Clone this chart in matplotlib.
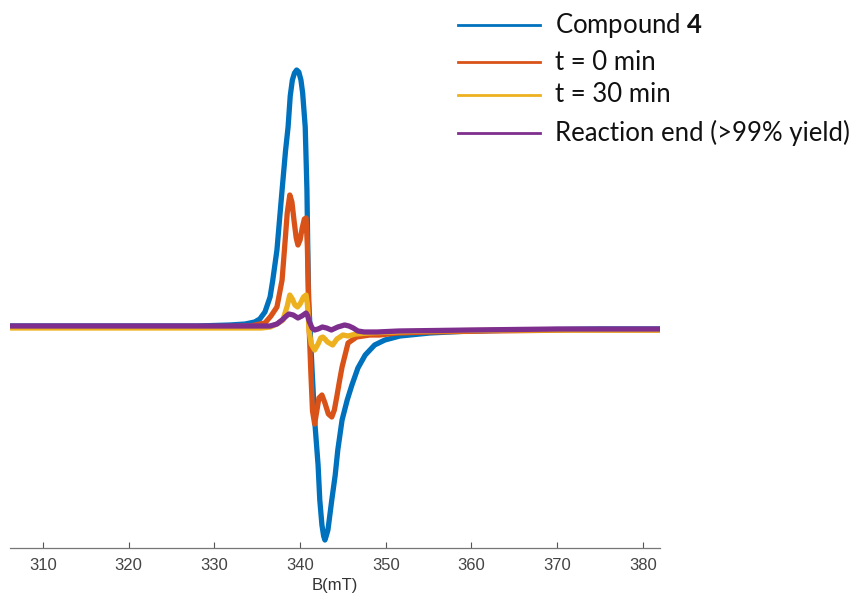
import matplotlib
matplotlib.use("Agg")
import matplotlib.pyplot as plt
from matplotlib.lines import Line2D

plt.rcParams['mathtext.fontset'] = 'custom'
plt.rcParams['mathtext.rm'] = 'Lato'
plt.rcParams['mathtext.bf'] = 'Lato:bold'

# ---- data (B in mT, intensity in arbitrary units) ----
labels = ["Compound $\\mathbf{4}$", "t = 0 min", "t = 30 min", "Reaction end (>99% yield)"]
colors = ["#0072BD", "#D95319", "#EDB120", "#7E2F8E"]

b_compound = [306.15, 316.0, 322.5, 328.0, 331.8, 333.6, 334.7, 335.3, 335.9, 336.5, 336.8, 337.3, 337.9,
              338.3, 338.6, 338.85, 339.1, 339.35, 339.6, 339.85, 340.1, 340.3, 340.6, 340.8, 340.9, 341.0, 341.15,
              341.4, 341.7, 342.1, 342.3, 342.55, 342.75, 342.9, 343.05, 343.25, 343.7, 344.1, 344.4, 344.9,
              345.5, 346.05, 346.75, 347.6, 348.7, 349.9, 351.65, 355.15, 359.8, 365.65, 375.0, 382.0]
i_compound = [0, 0, 0, 0, 1, 2, 4, 7, 14, 29, 45, 76, 136,
              175, 199, 230, 246, 253, 256, 254, 246, 233, 199, 136, 76, 26, 0,
              -44, -94, -139, -174, -199, -210, -214, -210, -204, -174, -149, -124, -94,
              -74, -59, -42, -29, -19, -14, -10, -7, -5, -4, -3, -3]

b_t0 = [306.15, 318.0, 330.0, 334.2, 335.3, 335.9, 336.6, 337.3, 337.9, 338.2, 338.5, 338.8, 339.05,
        339.3, 339.55, 339.75, 340.0, 340.25, 340.5, 340.7, 340.85, 340.95, 341.05, 341.25, 341.45, 341.7,
        341.95, 342.2, 342.55, 342.9, 343.3, 343.7, 344.0, 344.3, 344.6, 344.9, 345.6, 346.6, 348.15,
        349.3, 351.3, 355.15, 362.0, 372.0, 382.0]
i_t0 = [-1, -1, -1, 0, 2, 3, 10, 19, 46, 79, 113, 131, 124,
        105, 88, 81, 86, 98, 107, 108, 80, 40, 0, -45, -85, -98,
        -85, -72, -69, -77, -88, -91, -84, -70, -55, -41, -17, -11, -9,
        -9, -7, -6, -5, -4, -4]

b_t30 = [306.15, 318.0, 330.0, 335.5, 336.5, 337.3, 338.0, 338.5, 338.8, 339.1, 339.4, 339.7, 340.0,
         340.4, 340.7, 340.85, 340.95, 341.05, 341.3, 341.7, 342.1, 342.4, 342.65, 342.9, 343.2, 343.8,
         344.3, 345.0, 345.6, 346.5, 348.0, 351.0, 355.0, 365.0, 374.0, 382.0]
i_t30 = [-2, -2, -2, -2, -1, 2, 6, 20, 31, 27, 21, 19, 22,
         29, 31, 22, 10, -5, -18, -24, -18, -12, -11, -13, -16, -19,
         -13, -9, -10, -8, -7, -6, -5, -4, -4, -4]

b_end = [306.15, 318.0, 330.0, 336.5, 337.3, 337.9, 338.4, 338.7, 339.2, 339.75, 340.2, 340.7, 340.9,
         341.05, 341.4, 341.7, 342.1, 342.6, 343.1, 343.65, 344.4, 345.2, 345.7, 346.2, 346.75, 347.5,
         349.0, 351.5, 360.0, 370.0, 382.0]
i_end = [0, 0, 0, 0, 2, 6, 10, 12, 11, 8, 10, 13, 10,
         5, -2, -4, -3, -1, -2, -4, -1, 1, 0, -2, -5, -6,
         -6, -5, -4, -3, -3]

xs = [b_compound, b_t0, b_t30, b_end]
ys = [i_compound, i_t0, i_t30, i_end]
xticks = [310, 320, 330, 340, 350, 360, 370, 380]

W, H = 854, 594
fig = plt.figure(figsize=(W / 100, H / 100), dpi=100)
ax = fig.add_axes([10 / W, (H - 548) / H, 650 / W, 508 / H])

for x, y, c in zip(xs, ys, colors):
    ax.plot(x, y, color=c, lw=3.8, solid_joinstyle='round', solid_capstyle='round')

ax.set_xlim(306.15, 382.0)
ax.set_ylim(-222, 286)
ax.set_yticks([])
for s in ['top', 'right', 'left']:
    ax.spines[s].set_visible(False)
ax.spines['bottom'].set_color('#777777')
ax.spines['bottom'].set_linewidth(0.9)
ax.set_xticks(xticks)
ax.set_xticklabels([str(t) for t in xticks], fontsize=12, family='Liberation Sans', color='#444444')
ax.tick_params(axis='x', direction='in', length=4, width=0.8, color='#555555', pad=7)
ax.set_xlabel('B(mT)', fontsize=12, family='Liberation Sans', color='#333333', labelpad=4)

# legend drawn at figure positions
rows_y = [25, 62, 95, 133]
for lab, c, yy in zip(labels, colors, rows_y):
    fy = 1 - yy / H
    fig.add_artist(Line2D([458 / W, 540 / W], [fy, fy], color=c, lw=2.0, transform=fig.transFigure))
    fig.text(555 / W, fy, lab, fontsize=18.5, family='Lato', va='center', ha='left', color='#111111')

fig.savefig('out.png', dpi=100)
